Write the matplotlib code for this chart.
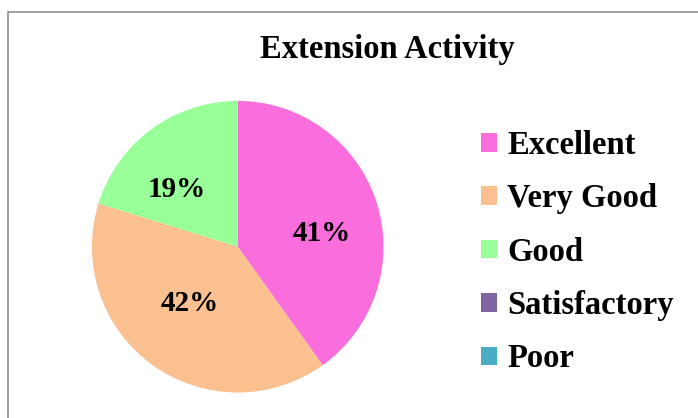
import matplotlib.pyplot as plt
from matplotlib.patches import Rectangle

categories = ["Excellent", "Very Good", "Good", "Satisfactory", "Poor"]
shares = [40.1, 39.7, 20.2, 0, 0]
pct_labels = ["41%", "42%", "19%", "", ""]
colors = ["#F96EDC", "#FAC090", "#99FF99", "#8064A2", "#4BACC6"]
# where the percent labels sit inside the pie (fraction of radius)
label_pos = [(0.576, 0.112), (-0.332, -0.37), (-0.42, 0.412), None, None]

W, H = 698, 418
plt.rcParams['font.family'] = ['Liberation Serif', 'DejaVu Serif']
fig = plt.figure(figsize=(W / 100, H / 100), dpi=100)

# outer chart border (runs off the right and bottom edges)
fig.patches.append(Rectangle((8 / W, -0.1), 1.0, (H - 11.5) / H + 0.1,
                             transform=fig.transFigure, fill=False,
                             edgecolor="#868686", lw=1.1))

cx, cy, r = 237.7, 246.7, 145.8
ax = fig.add_axes([(cx - r) / W, (H - cy - r) / H, 2 * r / W, 2 * r / H])
wedges, texts = ax.pie(shares, colors=colors, startangle=90, counterclock=False,
                       radius=1, wedgeprops=dict(linewidth=0))
ax.set_xlim(-1, 1)
ax.set_ylim(-1, 1)
ax.set_aspect('equal')
ax.axis('off')

for lab, pos in zip(pct_labels, label_pos):
    if lab:
        ax.text(pos[0], pos[1], lab, ha='center', va='center_baseline',
                fontsize=21, fontweight='bold')

fig.text(387 / W, 1 - 58 / H, "Extension Activity", ha='center', va='baseline',
         fontsize=23.5, fontweight='bold')

fig.legend(wedges, categories, loc='upper left', bbox_to_anchor=(481 / W, 1 - 130 / H),
           frameon=False, prop=dict(size=23.5, weight='bold'),
           handlelength=0.5, handleheight=0.5, handletextpad=0.3,
           labelspacing=0.685, borderaxespad=0, borderpad=0)

fig.savefig("out.png", dpi=100)
